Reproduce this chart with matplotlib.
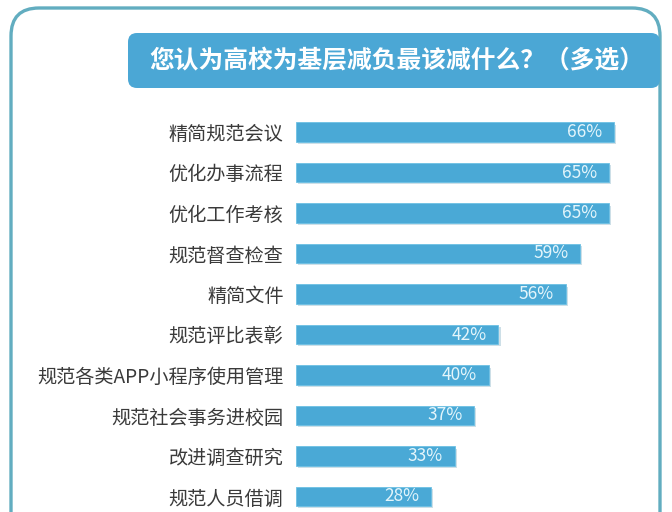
import matplotlib
matplotlib.use("Agg")
import matplotlib.pyplot as plt
from matplotlib.patches import FancyBboxPatch
import matplotlib.patheffects as pe

plt.rcParams['font.family'] = ['Noto Sans CJK SC', 'DejaVu Sans']

title = "您认为高校为基层减负最该减什么？（多选）"
items = ["精简规范会议", "优化办事流程", "优化工作考核", "规范督查检查", "精简文件",
         "规范评比表彰", "规范各类APP小程序使用管理", "规范社会事务进校园",
         "改进调查研究", "规范人员借调"]
values = [66, 65, 65, 59, 56, 42, 40, 37, 33, 28]

bar_color = "#4aa9d6"
frame_color = "#62adc0"

W, H = 672, 512
fig = plt.figure(figsize=(W / 100, H / 100), dpi=100)

# background layer in pixel coords (frame + title banner)
bg = fig.add_axes([0, 0, 1, 1])
bg.set_xlim(0, W)
bg.set_ylim(H, 0)
bg.axis("off")

frame = FancyBboxPatch((11, 8), 649, 560, boxstyle="round,pad=0,rounding_size=28",
                       fc="white", ec=frame_color, lw=2.4)
bg.add_patch(frame)
banner = FancyBboxPatch((128, 33), 532, 55, boxstyle="round,pad=0,rounding_size=9",
                        fc="#4ba7d5", ec="none")
bg.add_patch(banner)
bg.text(397, 61, title, color="white", fontsize=17.8, fontweight="bold",
        ha="center", va="center")

# bar chart
px = 4.82  # pixels per percent
left, right = 296, 660
top, step = 132, 40.5
ax = fig.add_axes([left / W, 0, (right - left) / W, (H - (top - step / 2)) / H])
ax.set_xlim(0, (right - left) / px)
ax.set_ylim((H - top) / step, -0.5)
ypos = list(range(len(items)))
bars = ax.barh(ypos, values, height=0.47, color=bar_color, edgecolor="#6cc0e4", lw=0.6)
for b in bars:
    b.set_path_effects([pe.SimplePatchShadow(offset=(1.5, -1.5), shadow_rgbFace="#b9d2de", alpha=0.7),
                        pe.Normal()])
for y, v in zip(ypos, values):
    ax.text(v - 2.5, y, f"{v}%", color="#e3f5fb", fontsize=12.5,
            ha="right", va="center")

ax.set_yticks(ypos)
ax.set_yticklabels(items, fontsize=13.8, color="#3a3a3a")
ax.tick_params(axis="y", length=0, pad=9)
ax.set_xticks([])
for s in ax.spines.values():
    s.set_visible(False)
ax.patch.set_alpha(0)

fig.savefig("out.png", dpi=100)
